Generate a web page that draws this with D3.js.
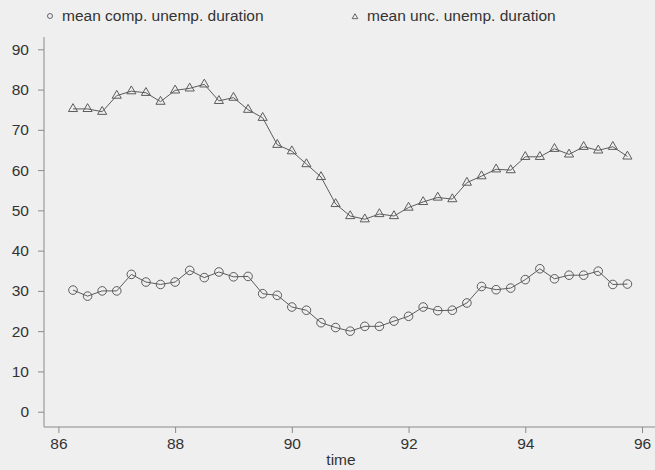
<!DOCTYPE html>
<html><head><meta charset="utf-8">
<script src="https://cdn.jsdelivr.net/npm/d3@7/dist/d3.min.js"></script>
<style>html,body{margin:0;padding:0;background:#efefef;}svg{display:block;}</style>
</head><body>
<script>
const times = [86.25,86.5,86.75,87,87.25,87.5,87.75,88,88.25,88.5,88.75,89,89.25,89.5,89.75,90,90.25,90.5,90.75,91,91.25,91.5,91.75,92,92.25,92.5,92.75,93,93.25,93.5,93.75,94,94.25,94.5,94.75,95,95.25,95.5,95.75];
const compDuration = [30.2,28.7,30.0,30.0,34.1,32.2,31.6,32.2,35.1,33.3,34.7,33.5,33.6,29.3,28.9,26.0,25.2,22.1,20.9,20.0,21.2,21.2,22.5,23.7,26.0,25.1,25.2,27.0,31.1,30.3,30.7,32.8,35.5,33.0,33.9,33.9,34.9,31.6,31.7];
const uncDuration = [75.2,75.2,74.5,78.5,79.6,79.2,77.0,79.8,80.3,81.3,77.2,78.0,75.0,73.0,66.3,64.7,61.5,58.3,51.6,48.6,47.8,49.1,48.6,50.7,52.1,53.2,52.8,56.9,58.5,60.2,60.0,63.3,63.3,65.3,63.9,65.8,64.9,65.8,63.4];
const yTicks = [0,10,20,30,40,50,60,70,80,90];
const xTicks = [86,88,90,92,94,96];
const legendLabels = ["mean comp. unemp. duration","mean unc. unemp. duration"];

const W=655,H=470;
const svg=d3.select("body").append("svg").attr("width",W).attr("height",H);
svg.append("rect").attr("width",W).attr("height",H).attr("fill","#efefef");

const x=d3.scaleLinear().domain([86,96]).range([58.4,642]);
const y=d3.scaleLinear().domain([0,90]).range([411.7,49.3]);
const plotLeft=44, plotBottom=427, plotTop=37;
const axisCol="#8a8a8a", lineCol="#5c5c5c", txtCol="#333333";
const font="'Liberation Sans',Arial,sans-serif";
const fs="15.5px";

svg.append("line").attr("x1",plotLeft).attr("x2",plotLeft).attr("y1",plotTop).attr("y2",plotBottom).attr("stroke",axisCol).attr("stroke-width",1);
svg.append("line").attr("x1",plotLeft).attr("x2",W).attr("y1",plotBottom).attr("y2",plotBottom).attr("stroke",axisCol).attr("stroke-width",1);

const yAxis=d3.axisLeft(y).tickValues(yTicks).tickSize(6).tickPadding(5);
const gy=svg.append("g").attr("transform",`translate(${plotLeft},0)`).call(yAxis);
gy.select(".domain").remove();
gy.selectAll(".tick line").attr("stroke",axisCol);
gy.selectAll(".tick text").attr("fill",txtCol).style("font-family",font).style("font-size",fs).attr("x",-15);

const xAxis=d3.axisBottom(x).tickValues(xTicks).tickSize(6).tickPadding(5);
const gx=svg.append("g").attr("transform",`translate(0,${plotBottom})`).call(xAxis);
gx.select(".domain").remove();
gx.selectAll(".tick line").attr("stroke",axisCol);
gx.selectAll(".tick text").attr("fill",txtCol).style("font-family",font).style("font-size",fs);

svg.append("text").attr("x",341).attr("y",465).attr("text-anchor","middle").attr("fill",txtCol)
  .style("font-family",font).style("font-size",fs).text("time");

const line=d3.line().x((d,i)=>x(times[i])).y(d=>y(d));
svg.append("path").attr("d",line(uncDuration)).attr("fill","none").attr("stroke",lineCol).attr("stroke-width",1);
svg.append("path").attr("d",line(compDuration)).attr("fill","none").attr("stroke",lineCol).attr("stroke-width",1);

const tri=d3.symbol().type(d3.symbolTriangle).size(36);
svg.append("g").selectAll("path").data(uncDuration).join("path")
  .attr("d",tri).attr("transform",(d,i)=>`translate(${x(times[i])},${y(d)})`)
  .attr("fill","none").attr("stroke",lineCol).attr("stroke-width",1);
svg.append("g").selectAll("circle").data(compDuration).join("circle")
  .attr("cx",(d,i)=>x(times[i])).attr("cy",d=>y(d)).attr("r",4.3)
  .attr("fill","none").attr("stroke",lineCol).attr("stroke-width",1);

svg.append("circle").attr("cx",50).attr("cy",16).attr("r",2.5).attr("fill","none").attr("stroke","#666");
svg.append("text").attr("x",62).attr("y",21).attr("fill",txtCol).style("font-family",font).style("font-size",fs).text(legendLabels[0]);
svg.append("path").attr("d",d3.symbol().type(d3.symbolTriangle).size(14)).attr("transform","translate(355,17)").attr("fill","none").attr("stroke","#666");
svg.append("text").attr("x",367).attr("y",21).attr("fill",txtCol).style("font-family",font).style("font-size",fs).text(legendLabels[1]);
</script>
</body></html>
